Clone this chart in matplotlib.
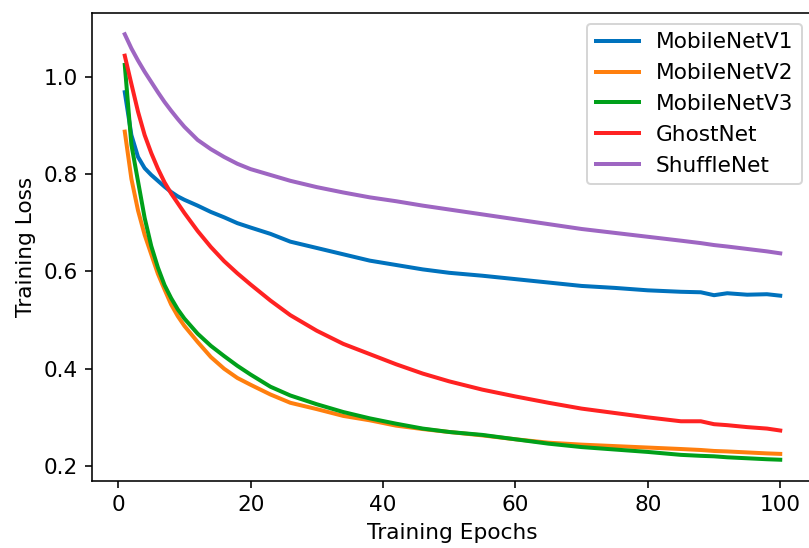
import matplotlib
matplotlib.use("Agg")
from matplotlib import pyplot as plt

plt.rcParams["font.size"] = 10.8

# === DATA ===
epochs = [1, 2, 3, 4, 5, 6, 7, 8, 9, 10, 12, 14, 16, 18, 20, 23, 26, 30, 34, 38,
          42, 46, 50, 55, 60, 65, 70, 75, 80, 85, 88, 90, 92, 95, 98, 100]

mobilenet_v1 = [0.968, 0.880, 0.835, 0.812, 0.798, 0.786, 0.774, 0.763, 0.754, 0.747,
                0.735, 0.722, 0.711, 0.699, 0.690, 0.677, 0.661, 0.648, 0.635, 0.622,
                0.613, 0.604, 0.597, 0.591, 0.584, 0.577, 0.570, 0.566, 0.561, 0.558,
                0.557, 0.551, 0.555, 0.552, 0.553, 0.550]
mobilenet_v2 = [0.887, 0.790, 0.725, 0.675, 0.635, 0.595, 0.563, 0.532, 0.508, 0.488,
                0.455, 0.424, 0.400, 0.381, 0.367, 0.347, 0.330, 0.317, 0.303, 0.294,
                0.283, 0.276, 0.270, 0.263, 0.255, 0.248, 0.244, 0.241, 0.238, 0.235,
                0.233, 0.231, 0.230, 0.228, 0.226, 0.225]
mobilenet_v3 = [1.024, 0.860, 0.785, 0.710, 0.652, 0.608, 0.572, 0.545, 0.522, 0.503,
                0.472, 0.447, 0.426, 0.406, 0.388, 0.363, 0.345, 0.327, 0.311, 0.298,
                0.287, 0.277, 0.270, 0.264, 0.255, 0.246, 0.239, 0.234, 0.229, 0.223,
                0.221, 0.220, 0.218, 0.216, 0.214, 0.213]
ghostnet = [1.043, 0.985, 0.928, 0.880, 0.843, 0.811, 0.783, 0.760, 0.740, 0.720,
            0.683, 0.650, 0.621, 0.596, 0.573, 0.540, 0.510, 0.478, 0.451, 0.430,
            0.409, 0.390, 0.374, 0.357, 0.343, 0.330, 0.318, 0.309, 0.300, 0.292,
            0.292, 0.286, 0.284, 0.280, 0.277, 0.273]
shufflenet = [1.087, 1.058, 1.033, 1.010, 0.989, 0.968, 0.948, 0.930, 0.913, 0.897,
              0.870, 0.851, 0.835, 0.821, 0.810, 0.798, 0.786, 0.773, 0.762, 0.752,
              0.744, 0.735, 0.727, 0.717, 0.707, 0.697, 0.687, 0.679, 0.671, 0.663,
              0.658, 0.654, 0.651, 0.646, 0.641, 0.637]

names = ["MobileNetV1", "MobileNetV2", "MobileNetV3", "GhostNet", "ShuffleNet"]
series = [mobilenet_v1, mobilenet_v2, mobilenet_v3, ghostnet, shufflenet]
colors = ["#0072bd", "#ff7f0e", "#00a01a", "#ff2222", "#9e66c2"]

# === PLOT ===
fig = plt.figure(figsize=(809 / 144, 548 / 144), dpi=144)
ax = fig.add_axes([92 / 809, (548 - 481) / 548, (813 - 92) / 809, (481 - 13) / 548])

for name, ys, c in zip(names, series, colors):
    ax.plot(epochs, ys, color=c, linewidth=2, label=name)

ax.set_xlabel("Training Epochs")
ax.set_ylabel("Training Loss")
ax.set_xticks([0, 20, 40, 60, 80, 100])
ax.set_yticks([0.2, 0.4, 0.6, 0.8, 1.0])
ax.legend(loc="upper right")

fig.savefig("out.png", dpi=144)
